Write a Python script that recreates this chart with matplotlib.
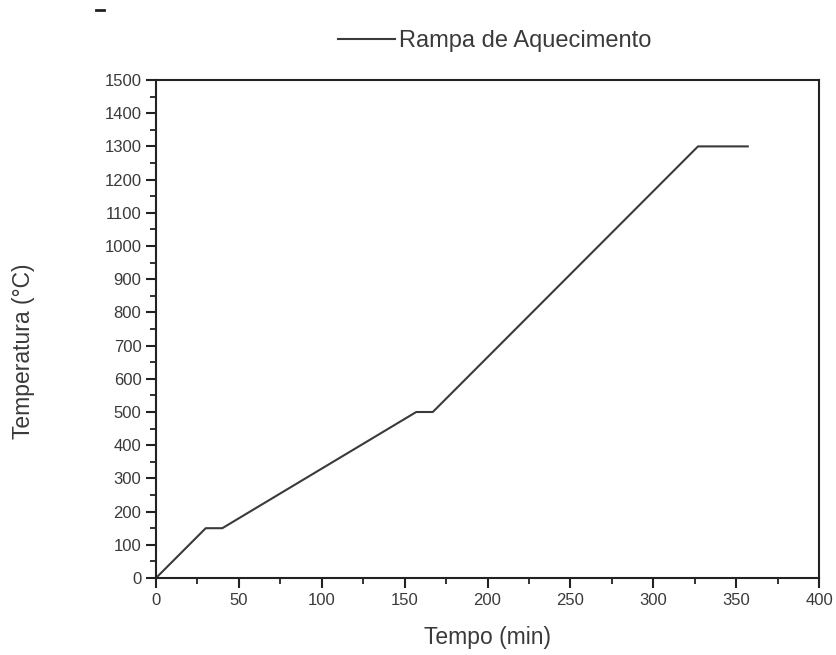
import matplotlib
matplotlib.use("Agg")
import matplotlib.pyplot as plt
from matplotlib.lines import Line2D
from matplotlib.ticker import MultipleLocator

plt.rcParams['font.family'] = ['Liberation Sans', 'DejaVu Sans']

# Heating ramp: time (min) vs temperature (°C)
tempo = [0, 30, 40, 157, 167, 327, 357]
temperatura = [0, 150, 150, 500, 500, 1300, 1300]

x_ticks = [0, 50, 100, 150, 200, 250, 300, 350, 400]
y_ticks = list(range(0, 1501, 100))

W, H = 836, 655
fig = plt.figure(figsize=(W / 100, H / 100), dpi=100)
left, right, top, bottom = 156, 819, 80, 578
ax = fig.add_axes([left / W, 1 - bottom / H, (right - left) / W, (bottom - top) / H])

line, = ax.plot(tempo, temperatura, color='#3a3a3a', lw=1.5,
                label='Rampa de Aquecimento')

ax.set_xlim(0, 400)
ax.set_ylim(0, 1500)
ax.set_xticks(x_ticks)
ax.set_yticks(y_ticks)
ax.xaxis.set_minor_locator(MultipleLocator(25))
ax.yaxis.set_minor_locator(MultipleLocator(50))
ax.tick_params(which='major', direction='out', length=7.5, width=1.5,
               labelsize=12, colors='#222222', labelcolor='#3a3a3a', pad=3)
ax.tick_params(axis='x', which='major', pad=3.5)
ax.tick_params(which='minor', direction='out', length=4.5, width=1.3,
               colors='#222222')
for s in ax.spines.values():
    s.set_linewidth(1.5)
    s.set_color('#222222')

ax.set_xlabel('Tempo (min)', fontsize=16.5, color='#3a3a3a')
ax.set_ylabel('Temperatura (°C)', fontsize=16.5, color='#3a3a3a')
ax.xaxis.set_label_coords(0.5, -0.097)
ax.yaxis.set_label_coords(-0.183, 0.455)

fig.legend(handles=[line], loc='center', bbox_to_anchor=(495 / W, 1 - 41 / H),
           frameon=False, fontsize=17, handlelength=2.4, handletextpad=0.17,
           labelcolor='#3a3a3a')

# small dash at the top-left of the page
fig.add_artist(Line2D([96 / W, 104 / W], [1 - 10 / H, 1 - 10 / H],
                      color='#222222', lw=2))

fig.savefig('out.png', dpi=100, facecolor='white')
